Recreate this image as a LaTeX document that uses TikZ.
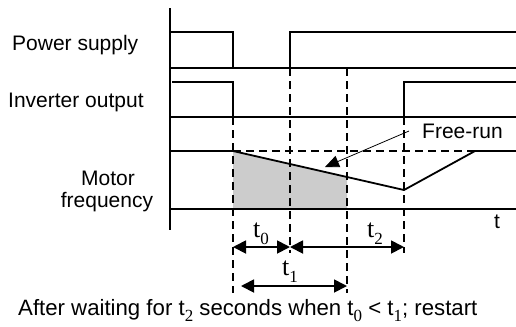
\documentclass[tikz,border=0pt]{standalone}
\usepackage{fontspec}
\setmainfont{Liberation Sans}
\newfontfamily\serifft{Liberation Serif}
\usetikzlibrary{arrows.meta}
\newcommand{\tsb}[1]{\raisebox{-0.27em}{\fontsize{17bp}{17bp}\selectfont\serifft #1}}
\begin{document}
\begin{tikzpicture}[x=1bp,y=-1bp,
  sig/.style={line width=1.8bp},
  guide/.style={line width=1.6bp,dash pattern=on 8bp off 5bp},
  lbl/.style={inner sep=0pt,font=\fontsize{21bp}{24bp}\selectfont},
  tlbl/.style={inner sep=0pt,font=\fontsize{26bp}{28bp}\selectfont\serifft},
  dim/.style={line width=1.8bp,{Triangle[length=13bp,width=13bp]}-{Triangle[length=13bp,width=13bp]}},
  callout/.style={line width=0.8bp,-{Triangle[length=14bp,width=12bp]}}]
\useasboundingbox (0,0) rectangle (516,326);
% coordinates
\coordinate (axT) at (170,8);
\coordinate (axB) at (170,230);
% power supply
\coordinate (p0) at (170,32);
\coordinate (p1) at (233,32);
\coordinate (p2) at (233,68);
\coordinate (p3) at (290,68);
\coordinate (p4) at (290,32);
\coordinate (p5) at (516,32);
\coordinate (pl0) at (170,68);
\coordinate (pl1) at (516,68);
% inverter
\coordinate (i0) at (172,82);
\coordinate (i1) at (233,82);
\coordinate (i2) at (233,117);
\coordinate (i3) at (404,117);
\coordinate (i4) at (404,82);
\coordinate (i5) at (516,82);
\coordinate (il0) at (170,117);
\coordinate (il1) at (516,117);
% motor
\coordinate (m0) at (170,151);
\coordinate (m1) at (233,151);
\coordinate (mc) at (347,177);
\coordinate (m2) at (404,190);
\coordinate (m3) at (475,151);
\coordinate (m4) at (516,151);
\coordinate (mb0) at (170,209);
\coordinate (mb1) at (516,209);
\coordinate (mcb) at (347,209);
\coordinate (m1b) at (233,209);
% shaded area
\fill[gray!40] (m1) -- (mc) -- (mcb) -- (m1b) -- cycle;
% guides
\coordinate (g1a) at (233,117); \coordinate (g1b) at (233,293);
\coordinate (g2a) at (290,68);  \coordinate (g2b) at (290,253);
\coordinate (g3a) at (347,68);  \coordinate (g3b) at (347,293);
\coordinate (g4a) at (404,117); \coordinate (g4b) at (404,253);
\draw[guide] (g1a) -- (g1b);
\draw[guide] (g2a) -- (g2b);
\draw[guide] (g3a) -- (g3b);
\draw[guide] (g4a) -- (g4b);
\draw[guide] (m1) -- (m3);
% axis
\draw[line width=2.6bp] (axT) -- (axB);
% signals
\draw[sig] (p0) -- (p1) -- (p2);
\draw[sig] (p3) -- (p4) -- (p5);
\draw[sig] (pl0) -- (pl1);
\draw[sig] (i0) -- (i1) -- (i2);
\draw[sig] (i3) -- (i4) -- (i5);
\draw[sig] (il0) -- (il1);
\draw[sig] (m0) -- (m1) -- (m2) -- (m3) -- (m4);
\draw[sig] (mb0) -- (mb1);
% labels
\node[lbl,anchor=base west] (ps) at (12,50) {Power supply};
\node[lbl,anchor=base west] (io) at (8,107) {Inverter output};
\node[lbl,anchor=base] (mo) at (108,185) {Motor};
\node[lbl,anchor=base] (fr) at (107,207) {frequency};
\node[lbl,anchor=base west] (fre) at (422,138) {Free-run};
\node[lbl,anchor=base] (tt) at (497,228) {t};
% free-run callout
\coordinate (fa) at (409,131);
\coordinate (fb) at (325,167);
\draw[callout] (fa) -- (fb);
% dimension arrows
\coordinate (d1) at (233,247);
\coordinate (d2) at (290,247);
\coordinate (d3) at (404,247);
\coordinate (e1) at (241,286);
\coordinate (e2) at (347,286);
\draw[dim] (d1) -- (d2);
\draw[dim] (d2) -- (d3);
\draw[dim] (e1) -- (e2);
\node[tlbl,anchor=base west] (t0) at (253,237) {t\tsb{0}};
\node[tlbl,anchor=base west] (t2) at (367,237) {t\tsb{2}};
\node[tlbl,anchor=base west] (t1) at (282,275) {t\tsb{1}};
% caption
\node[inner sep=0pt,anchor=base west,font=\fontsize{22.2bp}{24bp}\selectfont] (cap) at (18,315)
  {After waiting for t\tsb{2} seconds when t\tsb{0} < t\tsb{1}; restart};
\end{tikzpicture}
\end{document}
